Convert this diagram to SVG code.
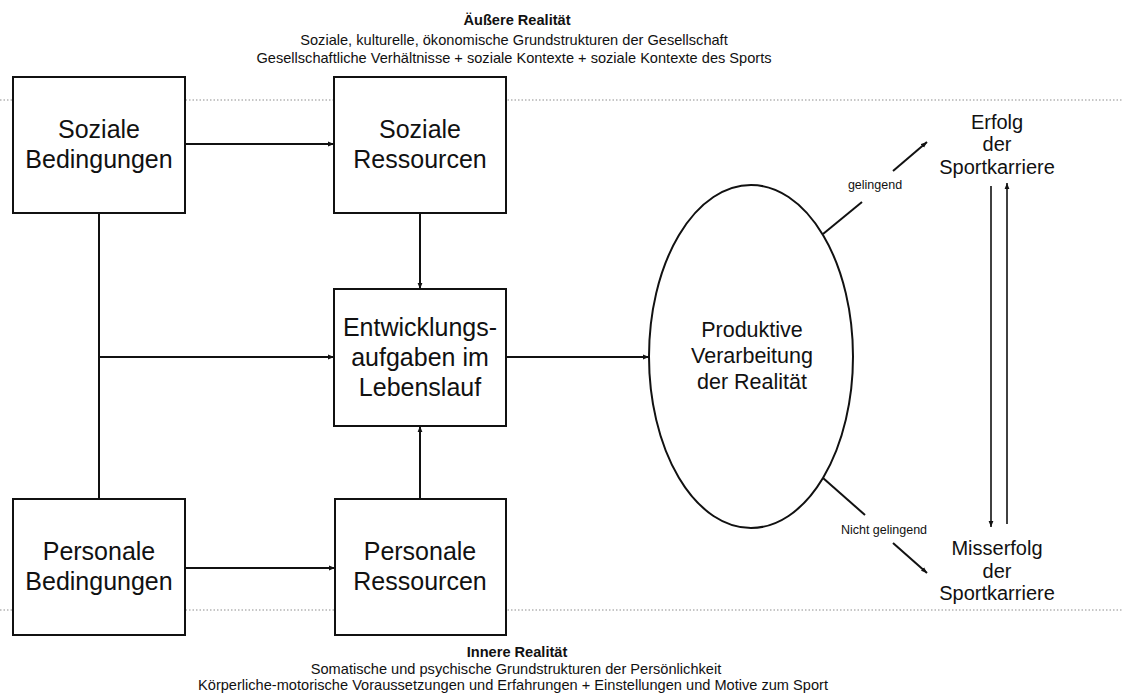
<svg xmlns="http://www.w3.org/2000/svg" width="1123" height="700" viewBox="0 0 1123 700">
<style>
text{font-family:"Liberation Sans",Arial,sans-serif;fill:#111;text-anchor:middle}
.box{fill:#fff;stroke:#111;stroke-width:2}
.big{font-size:25px}
.mid{font-size:20px}
.ell{font-size:21.5px}
.small{font-size:12.5px}
.hdr{font-size:14.6px}
.hb{font-size:14.6px;font-weight:bold}
.dot{stroke:#b4b4b4;stroke-width:1.5;stroke-dasharray:1.5 2;fill:none}
.c{stroke:#111;stroke-width:2;fill:none}
.c1{stroke:#111;stroke-width:1.6;fill:none}
</style>
<defs>
<marker id="ah" viewBox="0 0 10 10" refX="10" refY="5" markerWidth="6" markerHeight="6" markerUnits="userSpaceOnUse" orient="auto">
<path d="M0,1 L10,5 L0,9 Z" fill="#111"/>
</marker>
</defs>
<rect width="1123" height="700" fill="#fff"/>
<g id="guides">
<line class="dot" x1="0" y1="100" x2="1123" y2="100"/>
<line class="dot" x1="0" y1="610" x2="1123" y2="610"/>
</g>
<g id="header">
<text class="hb" x="517" y="25">Äußere  Realität</text>
<text class="hdr" x="514" y="45">Soziale, kulturelle, ökonomische Grundstrukturen der Gesellschaft</text>
<text class="hdr" x="514" y="63">Gesellschaftliche Verhältnisse + soziale Kontexte + soziale Kontexte des Sports</text>
</g>
<g id="footer">
<text class="hb" x="517" y="657">Innere Realität</text>
<text class="hdr" x="516" y="674">Somatische und psychische Grundstrukturen der Persönlichkeit</text>
<text class="hdr" x="513" y="690">Körperliche-motorische Voraussetzungen und Erfahrungen + Einstellungen und Motive zum Sport</text>
</g>
<g id="connectors">
<line class="c" x1="185" y1="144" x2="334" y2="144" marker-end="url(#ah)"/>
<line class="c" x1="99" y1="213" x2="99" y2="499"/>
<line class="c" x1="99" y1="357" x2="334" y2="357" marker-end="url(#ah)"/>
<line class="c" x1="185" y1="568" x2="335" y2="568" marker-end="url(#ah)"/>
<line class="c" x1="420" y1="213" x2="420" y2="289" marker-end="url(#ah)"/>
<line class="c" x1="420" y1="499" x2="420" y2="426" marker-end="url(#ah)"/>
<line class="c" x1="506" y1="357" x2="649" y2="357" marker-end="url(#ah)"/>
<line class="c" x1="823" y1="234" x2="862" y2="202"/>
<line class="c" x1="893" y1="171" x2="927" y2="142" marker-end="url(#ah)"/>
<line class="c" x1="823" y1="478" x2="865" y2="515"/>
<line class="c" x1="893" y1="543" x2="927" y2="573" marker-end="url(#ah)"/>
<line class="c1" x1="991" y1="186" x2="991" y2="527" marker-end="url(#ah)"/>
<line class="c1" x1="1007" y1="524" x2="1007" y2="183" marker-end="url(#ah)"/>
<text class="small" x="875" y="189">gelingend</text>
<text class="small" x="884" y="534">Nicht gelingend</text>
</g>
<g id="soziale-bedingungen">
<rect class="box" x="13" y="77" width="172" height="136"/>
<text class="big" x="99" y="138">Soziale</text>
<text class="big" x="99" y="168">Bedingungen</text>
</g>
<g id="soziale-ressourcen">
<rect class="box" x="334" y="77" width="172" height="136"/>
<text class="big" x="420" y="138">Soziale</text>
<text class="big" x="420" y="168">Ressourcen</text>
</g>
<g id="entwicklungsaufgaben">
<rect class="box" x="334" y="289" width="172" height="137"/>
<text class="big" x="420" y="336">Entwicklungs-</text>
<text class="big" x="420" y="366">aufgaben im</text>
<text class="big" x="420" y="396">Lebenslauf</text>
</g>
<g id="personale-bedingungen">
<rect class="box" x="13" y="499" width="172" height="136"/>
<text class="big" x="99" y="560">Personale</text>
<text class="big" x="99" y="590">Bedingungen</text>
</g>
<g id="personale-ressourcen">
<rect class="box" x="335" y="499" width="171" height="136"/>
<text class="big" x="420" y="560">Personale</text>
<text class="big" x="420" y="590">Ressourcen</text>
</g>
<g id="produktive-verarbeitung">
<ellipse cx="751" cy="356.5" rx="102" ry="171.5" fill="#fff" stroke="#111" stroke-width="2"/>
<text class="ell" x="752" y="337">Produktive</text>
<text class="ell" x="752" y="363">Verarbeitung</text>
<text class="ell" x="752" y="389">der Realität</text>
</g>
<g id="erfolg">
<text class="mid" x="997" y="129">Erfolg</text>
<text class="mid" x="997" y="151">der</text>
<text class="mid" x="997" y="174">Sportkarriere</text>
</g>
<g id="misserfolg">
<text class="mid" x="997" y="555">Misserfolg</text>
<text class="mid" x="997" y="578">der</text>
<text class="mid" x="997" y="600">Sportkarriere</text>
</g>
</svg>
